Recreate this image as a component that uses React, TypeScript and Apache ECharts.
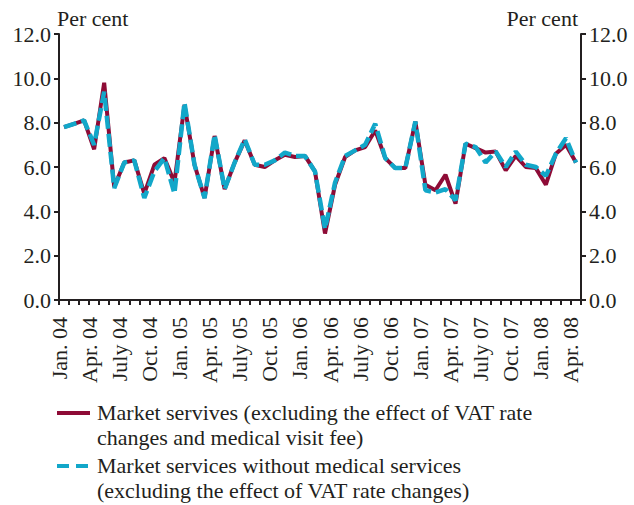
import React, { useEffect, useRef } from "react";
import * as echarts from "echarts";

const categories: string[] = [
  "Jan. 04", "Feb. 04", "Mar. 04", "Apr. 04", "May 04", "June 04", "July 04", "Aug. 04", "Sep. 04", "Oct. 04", "Nov. 04", "Dec. 04",
  "Jan. 05", "Feb. 05", "Mar. 05", "Apr. 05", "May 05", "June 05", "July 05", "Aug. 05", "Sep. 05", "Oct. 05", "Nov. 05", "Dec. 05",
  "Jan. 06", "Feb. 06", "Mar. 06", "Apr. 06", "May 06", "June 06", "July 06", "Aug. 06", "Sep. 06", "Oct. 06", "Nov. 06", "Dec. 06",
  "Jan. 07", "Feb. 07", "Mar. 07", "Apr. 07", "May 07", "June 07", "July 07", "Aug. 07", "Sep. 07", "Oct. 07", "Nov. 07", "Dec. 07",
  "Jan. 08", "Feb. 08", "Mar. 08", "Apr. 08",
];

const marketServices: number[] = [
  7.8, 7.95, 8.1, 6.8, 9.8, 5.1, 6.2, 6.3, 4.8, 6.1, 6.4, 5.3,
  8.8, 6.1, 4.6, 7.4, 5.0, 6.2, 7.2, 6.1, 6.0, 6.3, 6.55, 6.45,
  6.5, 5.8, 3.0, 5.2, 6.45, 6.75, 6.9, 7.65, 6.4, 5.95, 5.95, 8.05,
  5.2, 4.95, 5.65, 4.35, 7.05, 6.85, 6.65, 6.7, 5.85, 6.5, 6.0, 5.95,
  5.2, 6.6, 7.0, 6.2,
];

const withoutMedical: number[] = [
  7.8, 7.95, 8.1, 7.0, 9.4, 5.05, 6.2, 6.3, 4.6, 5.8, 6.4, 4.8,
  8.9, 6.1, 4.6, 7.45, 5.0, 6.2, 7.25, 6.1, 6.1, 6.3, 6.65, 6.5,
  6.5, 5.8, 3.2, 5.3, 6.5, 6.75, 7.0, 7.95, 6.4, 5.95, 5.95, 8.05,
  4.95, 4.85, 5.0, 4.5, 7.05, 6.9, 6.2, 6.7, 6.0, 6.7, 6.1, 6.0,
  5.6, 6.6, 7.3, 6.2,
];

const seriesNames: string[] = [
  "Market servives (excluding the effect of VAT rate\nchanges and medical visit fee)",
  "Market services without medical services\n(excluding the effect of VAT rate changes)",
];

const axisTitle = "Per cent";

const RED = "#8e0b36";
const BLUE = "#12a7c9";
const INK = "#231f20";
const FONT = "Liberation Serif";
const FS = 22;

export default function App() {
  const ref = useRef<HTMLDivElement>(null);

  useEffect(() => {
    document.body.style.margin = "0";
    if (!ref.current) return;
    const chart = echarts.init(ref.current, undefined, { renderer: "svg" });

    const yAxisCommon = {
      type: "value" as const,
      min: 0,
      max: 12,
      interval: 2,
      splitLine: { show: false },
      axisLine: { show: true, lineStyle: { color: INK, width: 2 } },
      axisTick: { show: true, length: 5, lineStyle: { color: INK, width: 2 } },
    };

    const yLabel = {
      margin: 8,
      color: INK,
      fontFamily: FONT,
      fontSize: FS,
      formatter: (v: number) => v.toFixed(1),
    };

    chart.setOption({
      animation: false,
      backgroundColor: "#ffffff",
      grid: { left: 59, right: 53, top: 34, bottom: 205, containLabel: false },
      xAxis: {
        type: "category",
        data: categories,
        boundaryGap: true,
        axisLine: { show: true, lineStyle: { color: INK, width: 2 } },
        axisTick: { show: true, interval: 0, length: 5, lineStyle: { color: INK, width: 2 } },
        axisLabel: {
          interval: 2,
          rotate: 90,
          margin: 17,
          color: INK,
          fontFamily: FONT,
          fontSize: FS,
          verticalAlign: "bottom",
          lineHeight: 10,
        },
      },
      yAxis: [
        { ...yAxisCommon, position: "left", axisLabel: yLabel },
        { ...yAxisCommon, position: "right", axisLabel: yLabel },
      ],
      series: [
        {
          name: seriesNames[0],
          type: "line",
          data: marketServices,
          yAxisIndex: 0,
          symbol: "none",
          lineStyle: { color: RED, width: 4 },
          z: 2,
        },
        {
          name: seriesNames[1],
          type: "line",
          data: withoutMedical,
          yAxisIndex: 0,
          symbol: "none",
          lineStyle: { color: BLUE, width: 4.5, type: [13, 5] },
          z: 3,
        },
      ],
      graphic: [
        {
          type: "text",
          left: 57,
          top: 7,
          style: { text: axisTitle, fill: INK, font: `${FS}px "${FONT}"` },
        },
        {
          type: "text",
          right: 56,
          top: 7,
          style: { text: axisTitle, fill: INK, font: `${FS}px "${FONT}"`, align: "right" },
        },
        {
          type: "line",
          shape: { x1: 57, y1: 413, x2: 90, y2: 413 },
          style: { stroke: RED, lineWidth: 4 },
        },
        {
          type: "text",
          x: 97,
          y: 400,
          style: {
            text: seriesNames[0],
            fill: INK,
            font: `${FS}px "${FONT}"`,
            lineHeight: 25,
            verticalAlign: "top",
          },
        },
        {
          type: "line",
          shape: { x1: 57, y1: 466, x2: 90, y2: 466 },
          style: { stroke: BLUE, lineWidth: 4, lineDash: [12, 7] },
        },
        {
          type: "text",
          x: 97,
          y: 453,
          style: {
            text: seriesNames[1],
            fill: INK,
            font: `${FS}px "${FONT}"`,
            lineHeight: 25,
            verticalAlign: "top",
          },
        },
      ],
    });

    return () => chart.dispose();
  }, []);

  return <div ref={ref} style={{ width: 634, height: 505 }} />;
}
